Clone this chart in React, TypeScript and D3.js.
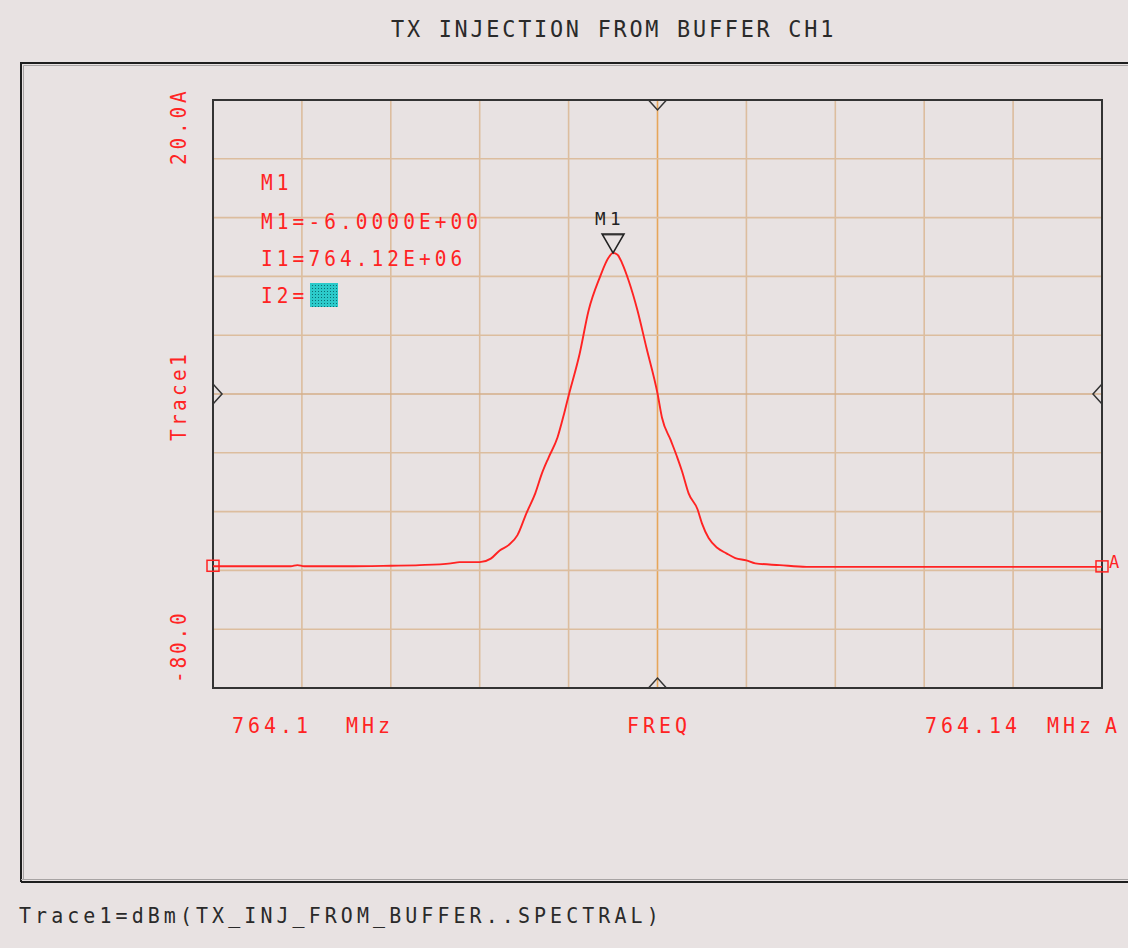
import React from "react";
import * as d3 from "d3";

// ---- data ----
const freqMHz: number[] = [
  764.1, 764.1035, 764.1038, 764.1041, 764.106, 764.108, 764.1093, 764.1107, 764.1111, 764.112,
  764.1125, 764.1129, 764.1133, 764.1137, 764.1141, 764.1145, 764.1148, 764.1151, 764.1155,
  764.1158, 764.116, 764.1165, 764.1169, 764.1174, 764.1178, 764.118, 764.1182, 764.1184,
  764.1187, 764.1191, 764.1195, 764.12, 764.1202, 764.1206, 764.1209, 764.1211, 764.1214,
  764.1218, 764.122, 764.1223, 764.1227, 764.1231, 764.1235, 764.124, 764.1244, 764.1255,
  764.1267, 764.1291, 764.14,
];
const traceDbm: number[] = [
  -59.3, -59.3, -59.1, -59.3, -59.3, -59.2, -59.1, -58.8, -58.6, -58.6,
  -58.0, -56.6, -55.7, -54.0, -50.3, -46.9, -43.5, -40.8, -37.4,
  -33.3, -30.3, -23.1, -15.8, -10.2, -6.8, -6.0, -6.3, -7.7,
  -10.7, -15.8, -22.1, -29.9, -34.0, -37.9, -40.9, -43.1, -46.9,
  -49.6, -52.0, -54.5, -56.2, -57.1, -57.9, -58.3, -58.8, -59.1,
  -59.4, -59.4, -59.4,
];
const xDomain: [number, number] = [764.1, 764.14];
const yDomain: [number, number] = [-80, 20];
const markerFreq = 764.118;
const markerDbm = -6.0;

const titleText = "TX INJECTION FROM BUFFER CH1";
const yTopLabel = "20.0A";
const yBottomLabel = "-80.0";
const yAxisName = "Trace1";
const xLeftLabel = "764.1";
const xRightLabel = "764.14";
const xUnit = "MHz";
const xAxisName = "FREQ";
const markerLines = ["M1", "M1=-6.0000E+00", "I1=764.12E+06", "I2="];
const footerText = "Trace1=dBm(TX_INJ_FROM_BUFFER..SPECTRAL)";

// ---- styling ----
const BG = "#e8e2e2";
const RED = "#ff2323";
const GRID = "#dcbd9e";
const GRID_V_CENTER = "#e6a65a";
const GRID_H_CENTER = "#d5ae88";
const DARK = "#2a2a2a";

function MonoText(props: {
  x: number; y: number; text: string; size: number; pitch: number; fill: string;
  rotate?: number; sx?: number;
}) {
  const { x, y, text, size, pitch, fill, rotate = 0, sx = 0.95 } = props;
  const ls = pitch / sx - 0.602 * size;
  return (
    <text
      transform={`translate(${x},${y}) rotate(${rotate}) scale(${sx},1)`}
      fontFamily="'DejaVu Sans Mono', monospace"
      fontSize={size}
      letterSpacing={ls}
      fill={fill}
      style={{ whiteSpace: "pre" }}
    >
      {text}
    </text>
  );
}

export default function App() {
  const W = 1128, H = 948;
  const L = 213, R = 1102, T = 100, B = 688;
  const x = d3.scaleLinear().domain(xDomain).range([L, R]);
  const y = d3.scaleLinear().domain(yDomain).range([B, T]);
  const xTicks = d3.range(11).map((i) => xDomain[0] + (i * (xDomain[1] - xDomain[0])) / 10);
  const yTicks = d3.range(11).map((i) => yDomain[0] + (i * (yDomain[1] - yDomain[0])) / 10);
  const xMid = (xDomain[0] + xDomain[1]) / 2;
  const yMid = (yDomain[0] + yDomain[1]) / 2;

  const pts: [number, number][] = freqMHz.map((f, i) => [f, traceDbm[i]]);
  const line = d3.line<[number, number]>().x((d) => x(d[0])).y((d) => y(d[1])).curve(d3.curveMonotoneX);

  const mx = x(markerFreq), my = y(markerDbm);
  const cx = x(xMid), cy = y(yMid);
  const leftEnd = pts[0], rightEnd = pts[pts.length - 1];

  return (
    <svg
      width={W}
      height={H}
      style={{ position: "absolute", left: 0, top: 0, display: "block" }}
    >
      <defs>
        <pattern id="dots" width="3" height="3" patternUnits="userSpaceOnUse">
          <rect width="3" height="3" fill="#2ccaca" />
          <rect width="1" height="1" fill="#0b6f74" />
        </pattern>
      </defs>
      <rect x={0} y={0} width={W} height={H} fill={BG} />

      {/* title */}
      <MonoText x={391} y={37} text={titleText} size={23} pitch={15.9} fill={DARK} />

      {/* outer frame */}
      <path d={`M21,882 L21,63 L${W + 5},63`} fill="none" stroke="#1e1e1e" strokeWidth={2} />
      <path d={`M23.5,880 L23.5,65.5 L${W + 5},65.5`} fill="none" stroke="#a8a4a4" strokeWidth={1} />
      <path d={`M21,882 L${W + 5},882`} fill="none" stroke="#1e1e1e" strokeWidth={2} />
      <path d={`M21,879.5 L${W + 5},879.5`} fill="none" stroke="#a8a4a4" strokeWidth={1} />

      {/* grid */}
      {xTicks.slice(1, -1).map((t, i) => (
        <line key={"gx" + i} x1={x(t)} x2={x(t)} y1={T} y2={B}
          stroke={Math.abs(t - xMid) < 1e-9 ? GRID_V_CENTER : GRID} strokeWidth={1.6} />
      ))}
      {yTicks.slice(1, -1).map((t, i) => (
        <line key={"gy" + i} x1={L} x2={R} y1={y(t)} y2={y(t)}
          stroke={Math.abs(t - yMid) < 1e-9 ? GRID_H_CENTER : GRID} strokeWidth={1.6} />
      ))}

      {/* plot border */}
      <rect x={L} y={T} width={R - L} height={B - T} fill="none" stroke="#333" strokeWidth={2} />

      {/* center chevrons */}
      <g fill="none" stroke="#333" strokeWidth={1.5}>
        <path d={`M${cx - 9},${T} L${cx},${T + 10} L${cx + 9},${T}`} />
        <path d={`M${cx - 9},${B} L${cx},${B - 10} L${cx + 9},${B}`} />
        <path d={`M${L},${cy - 10} L${L + 9},${cy} L${L},${cy + 10}`} />
        <path d={`M${R},${cy - 10} L${R - 9},${cy} L${R},${cy + 10}`} />
      </g>

      {/* trace */}
      <path d={line(pts) || ""} fill="none" stroke={RED} strokeWidth={1.9} strokeLinejoin="round" />

      {/* end squares */}
      <rect x={x(leftEnd[0]) - 6} y={y(leftEnd[1]) - 6} width={12} height={11} fill="none" stroke={RED} strokeWidth={1.5} />
      <rect x={x(rightEnd[0]) - 6} y={y(rightEnd[1]) - 6} width={12} height={11} fill="none" stroke={RED} strokeWidth={1.5} />
      <MonoText x={1109} y={568} text="A" size={18} pitch={12} fill={RED} />

      {/* marker */}
      <path d={`M${mx - 11},${my - 19} L${mx + 11},${my - 19} L${mx},${my} Z`} fill="none" stroke="#222" strokeWidth={1.5} />
      <line x1={mx - 11} x2={mx + 11} y1={my - 18} y2={my - 18} stroke="#222" strokeWidth={1} />
      <MonoText x={595} y={225} text="M1" size={18.5} pitch={15} fill="#222" />

      {/* marker readout */}
      <MonoText x={261} y={190} text={markerLines[0]} size={20.5} pitch={15.8} fill={RED} />
      <MonoText x={261} y={229} text={markerLines[1]} size={20.5} pitch={15.8} fill={RED} />
      <MonoText x={261} y={266} text={markerLines[2]} size={20.5} pitch={15.8} fill={RED} />
      <MonoText x={261} y={303} text={markerLines[3]} size={20.5} pitch={15.8} fill={RED} />
      <rect x={310} y={283} width={28} height={24} fill="url(#dots)" />

      {/* y labels (rotated) */}
      <MonoText x={186} y={165} text={yTopLabel} size={20.5} pitch={15.5} fill={RED} rotate={-90} />
      <MonoText x={186} y={441} text={yAxisName} size={20.5} pitch={15} fill={RED} rotate={-90} />
      <MonoText x={186} y={683} text={yBottomLabel} size={20.5} pitch={14.5} fill={RED} rotate={-90} />

      {/* x labels */}
      <MonoText x={232} y={733} text={xLeftLabel} size={21} pitch={16} fill={RED} />
      <MonoText x={346} y={733} text={xUnit} size={21} pitch={16} fill={RED} />
      <MonoText x={627} y={733} text={xAxisName} size={21} pitch={16} fill={RED} />
      <MonoText x={925} y={733} text={xRightLabel} size={21} pitch={16} fill={RED} />
      <MonoText x={1047} y={733} text={xUnit} size={21} pitch={16} fill={RED} />
      <MonoText x={1105} y={733} text="A" size={21} pitch={16} fill={RED} />

      {/* footer */}
      <MonoText x={19} y={923} text={footerText} size={21} pitch={16.1} fill={DARK} />
    </svg>
  );
}
